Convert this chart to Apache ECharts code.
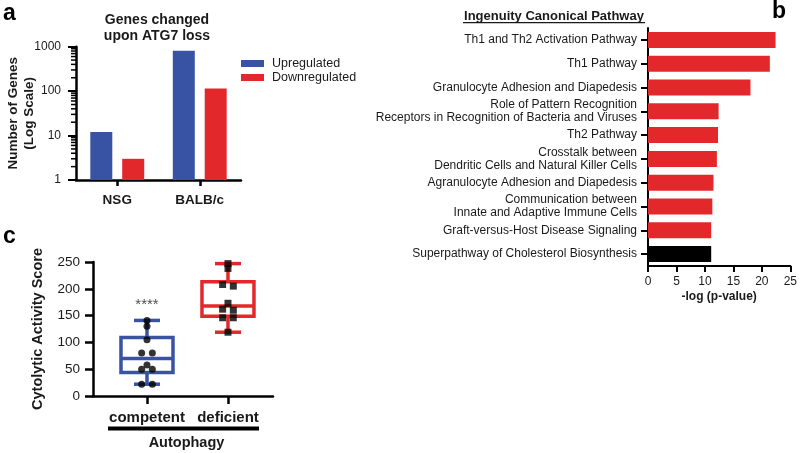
<!DOCTYPE html>
<html><head><meta charset="utf-8">
<script src="https://cdn.jsdelivr.net/npm/echarts@6/dist/echarts.min.js"></script>
<style>html,body{margin:0;padding:0;background:#fff}#c{width:800px;height:453px}</style>
</head><body><div id="c"></div>
<script>
const FONT = '"Liberation Sans", Arial, Helvetica, sans-serif';
const BLUE = '#3953a4';
const RED = '#e3282b';
const INK = '#1a1a1a';

// ---- Panel a data ----
const aCategories = ['NSG', 'BALB/c'];
const aSeriesNames = ['Upregulated', 'Downregulated'];
const aUpregulated = [12, 810];
const aDownregulated = [3, 115];

// ---- Panel b data ----
const bPathways = [
  'Th1 and Th2 Activation Pathway',
  'Th1 Pathway',
  'Granulocyte Adhesion and Diapedesis',
  'Role of Pattern Recognition\nReceptors in Recognition of Bacteria and Viruses',
  'Th2 Pathway',
  'Crosstalk between\nDendritic Cells and Natural Killer Cells',
  'Agranulocyte Adhesion and Diapedesis',
  'Communication between\nInnate and Adaptive Immune Cells',
  'Graft-versus-Host Disease Signaling',
  'Superpathway of Cholesterol Biosynthesis'
];
const bNegLogP = [22.4, 21.4, 18.0, 12.4, 12.3, 12.1, 11.5, 11.3, 11.1, 11.1];
const bHighlighted = 'Superpathway of Cholesterol Biosynthesis';

// ---- Panel c data ----
const cGroups = ['competent', 'deficient'];
// [min, Q1, median, Q3, max]
const cBoxStats = [
  [22, 44, 70, 109, 141],
  [119, 149, 168, 213, 247]
];
const cCompetent = [141, 130, 105, 80, 80, 58, 50, 50, 22, 22];
const cDeficient = [247, 238, 208, 205, 173, 162, 160, 146, 146, 119];
const cSignificance = '****';

// jitter: spread near-equal values sideways (like the reference's dot plot)
function jitter(vals, pos) {
  return vals.map((v, i) => {
    let off = 0;
    for (let j = 0; j < vals.length; j++) {
      if (j !== i && Math.abs(vals[j] - v) <= 4) { off = (i < j) ? -0.066 : 0.066; }
    }
    return [pos + off, v];
  });
}

// minor log ticks for panel a (2..9 x 10^k), expressed in log10 units on hidden linear axes
const aMinorLog = [];
for (let k = 0; k < 3; k++) for (let m = 2; m <= 9; m++) aMinorLog.push([0, Math.log10(m * Math.pow(10, k))]);

const chart = echarts.init(document.getElementById('c'));

const axisLineBlack = (w) => ({ show: true, lineStyle: { color: '#000', width: w } });
const hiddenAxis = { axisLine: { show: false }, axisTick: { show: false }, axisLabel: { show: false }, splitLine: { show: false } };

const option = {
  animation: false,
  textStyle: { fontFamily: FONT },
  grid: [
    { left: 76, top: 46.7, width: 165, height: 133.3 },
    { left: 648, top: 28, width: 145, height: 238 },
    { left: 93, top: 262, width: 180, height: 134 }
  ],
  legend: {
    orient: 'vertical', left: 236, top: 52,
    itemWidth: 23, itemHeight: 7, itemGap: 1,
    icon: 'rect',
    data: aSeriesNames,
    textStyle: { fontFamily: FONT, fontSize: 12.5, color: INK, padding: [0, 0, 0, 3] }
  },
  xAxis: [
    {
      type: 'category', gridIndex: 0, data: aCategories,
      axisLine: axisLineBlack(2.5),
      axisTick: { show: true, alignWithLabel: true, length: 6, lineStyle: { color: '#000', width: 2.5 } },
      axisLabel: { fontFamily: FONT, fontSize: 13.5, fontWeight: 'bold', color: INK, margin: 13 }
    },
    {
      type: 'value', gridIndex: 1, min: 0, max: 25, interval: 5,
      axisLine: axisLineBlack(2),
      axisTick: { show: true, length: 6, lineStyle: { color: '#000', width: 2 } },
      splitLine: { show: false },
      axisLabel: { fontFamily: FONT, fontSize: 12, color: INK, margin: 10 },
      name: '-log (p-value)', nameLocation: 'middle', nameGap: 25, nameMoveOverlap: false,
      nameTextStyle: { fontFamily: FONT, fontSize: 12, fontWeight: 'bold', color: INK }
    },
    {
      type: 'value', gridIndex: 2, min: 1 / 3, max: 2.556,
      axisLine: axisLineBlack(2.5),
      axisTick: { show: true, length: 8, customValues: [1, 2], lineStyle: { color: '#000', width: 2.5 } },
      splitLine: { show: false },
      axisLabel: {
        customValues: [1, 2],
        formatter: v => cGroups[Math.round(v) - 1] || '',
        fontFamily: FONT, fontSize: 15, fontWeight: 'bold', color: INK, margin: 14
      }
    },
    Object.assign({ type: 'value', gridIndex: 0, min: 0, max: 1 }, hiddenAxis)
  ],
  yAxis: [
    {
      type: 'log', logBase: 10, gridIndex: 0, min: 1, max: 1000,
      axisLine: axisLineBlack(2.5),
      axisTick: { show: true, length: 8, lineStyle: { color: '#000', width: 2 } },
      splitLine: { show: false },
      axisLabel: {
        formatter: v => String(Math.round(v)),
        fontFamily: FONT, fontSize: 12, color: INK, margin: 15
      },
      name: 'Number of Genes\n(Log Scale)', nameLocation: 'middle', nameGap: 39, nameMoveOverlap: false,
      nameTextStyle: { fontFamily: FONT, fontSize: 13.5, fontWeight: 'bold', color: INK, lineHeight: 16 }
    },
    {
      type: 'category', gridIndex: 1, data: bPathways, inverse: true,
      axisLine: axisLineBlack(2),
      axisTick: { show: true, alignWithLabel: true, length: 7, lineStyle: { color: '#000', width: 2 } },
      axisLabel: { fontFamily: FONT, fontSize: 12, color: INK, margin: 11, lineHeight: 13, interval: 0 }
    },
    {
      type: 'value', gridIndex: 2, min: 0, max: 250, interval: 50,
      axisLine: axisLineBlack(2.5),
      axisTick: { show: true, length: 8, lineStyle: { color: '#000', width: 2.5 } },
      splitLine: { show: false },
      axisLabel: { fontFamily: FONT, fontSize: 13.5, color: INK, margin: 13 },
      name: 'Cytolytic Activity Score', nameLocation: 'middle', nameGap: 48, nameMoveOverlap: false,
      nameTextStyle: { fontFamily: FONT, fontSize: 14.5, fontWeight: 'bold', color: INK }
    },
    Object.assign({ type: 'value', gridIndex: 0, min: 0, max: 3, position: 'left' }, hiddenAxis)
  ],
  series: [
    {
      name: aSeriesNames[0], type: 'bar', xAxisIndex: 0, yAxisIndex: 0,
      data: aUpregulated, barWidth: 22, barGap: '45%', itemStyle: { color: BLUE }
    },
    {
      name: aSeriesNames[1], type: 'bar', xAxisIndex: 0, yAxisIndex: 0,
      data: aDownregulated, barWidth: 22, barGap: '45%', itemStyle: { color: RED }
    },
    {
      type: 'custom', xAxisIndex: 3, yAxisIndex: 3, data: aMinorLog, silent: true, clip: false, z: 5,
      renderItem: (params, api) => {
        const p = api.coord([api.value(0), api.value(1)]);
        return { type: 'line', shape: { x1: p[0] - 5, y1: p[1], x2: p[0], y2: p[1] },
          style: { stroke: '#000', lineWidth: 1.5 } };
      }
    },
    {
      type: 'bar', xAxisIndex: 1, yAxisIndex: 1, barWidth: 16,
      data: bNegLogP.map((v, i) => ({
        value: v,
        itemStyle: { color: bPathways[i] === bHighlighted ? '#000' : RED }
      }))
    },
    {
      type: 'custom', xAxisIndex: 2, yAxisIndex: 2,
      data: cBoxStats.map((s, i) => [i + 1, ...s]),
      renderItem: (params, api) => {
        const x = api.value(0);
        const pMin = api.coord([x, api.value(1)]);
        const pQ1 = api.coord([x, api.value(2)]);
        const pMed = api.coord([x, api.value(3)]);
        const pQ3 = api.coord([x, api.value(4)]);
        const pMax = api.coord([x, api.value(5)]);
        const color = params.dataIndex === 0 ? BLUE : RED;
        const hw = 26, cw = 13, cx = pMed[0];
        const st = { stroke: color, lineWidth: 3.5, fill: 'transparent' };
        return {
          type: 'group', children: [
            { type: 'line', shape: { x1: cx, y1: pMin[1], x2: cx, y2: pQ1[1] }, style: st },
            { type: 'line', shape: { x1: cx, y1: pQ3[1], x2: cx, y2: pMax[1] }, style: st },
            { type: 'line', shape: { x1: cx - cw, y1: pMin[1], x2: cx + cw, y2: pMin[1] }, style: st },
            { type: 'line', shape: { x1: cx - cw, y1: pMax[1], x2: cx + cw, y2: pMax[1] }, style: st },
            { type: 'rect', shape: { x: cx - hw, y: pQ3[1], width: 2 * hw, height: pQ1[1] - pQ3[1] }, style: st },
            { type: 'line', shape: { x1: cx - hw, y1: pMed[1], x2: cx + hw, y2: pMed[1] }, style: st }
          ]
        };
      }
    },
    {
      type: 'scatter', xAxisIndex: 2, yAxisIndex: 2, symbol: 'circle', symbolSize: 7,
      itemStyle: { color: '#000' }, data: jitter(cCompetent, 1)
    },
    {
      type: 'scatter', xAxisIndex: 2, yAxisIndex: 2, symbol: 'rect', symbolSize: 7,
      itemStyle: { color: '#000' }, data: jitter(cDeficient, 2)
    },
    {
      type: 'scatter', xAxisIndex: 2, yAxisIndex: 2, symbolSize: 0, silent: true,
      data: [[1, 170]],
      label: { show: true, position: 'inside', formatter: cSignificance,
        fontFamily: FONT, fontSize: 15, color: INK }
    }
  ],
  graphic: [
    { type: 'text', x: 3, y: 2, style: { text: 'a', font: 'bold 23px ' + FONT, fill: '#000' } },
    { type: 'text', x: 772, y: 0, style: { text: 'b', font: 'bold 23px ' + FONT, fill: '#000' } },
    { type: 'text', x: 3, y: 225, style: { text: 'c', font: 'bold 23px ' + FONT, fill: '#000' } },
    { type: 'text', x: 157, y: 28, style: {
        text: 'Genes changed\nupon ATG7 loss', font: 'bold 14px ' + FONT, fill: INK,
        textAlign: 'center', align: 'center', textVerticalAlign: 'middle', verticalAlign: 'middle', lineHeight: 16 } },
    { type: 'text', x: 554, y: 16, style: {
        text: 'Ingenuity Canonical Pathway', font: 'bold 13px ' + FONT, fill: INK,
        textAlign: 'center', align: 'center', textVerticalAlign: 'middle', verticalAlign: 'middle' } },
    { type: 'rect', shape: { x: 463, y: 22, width: 182, height: 1.2 }, style: { fill: INK } },
    { type: 'rect', shape: { x: 108, y: 426.5, width: 151, height: 4 }, style: { fill: '#000' } },
    { type: 'text', x: 186.5, y: 443, style: {
        text: 'Autophagy', font: 'bold 14.5px ' + FONT, fill: INK,
        textAlign: 'center', align: 'center', textVerticalAlign: 'middle', verticalAlign: 'middle' } }
  ]
};
chart.setOption(option);
</script>
</body></html>
